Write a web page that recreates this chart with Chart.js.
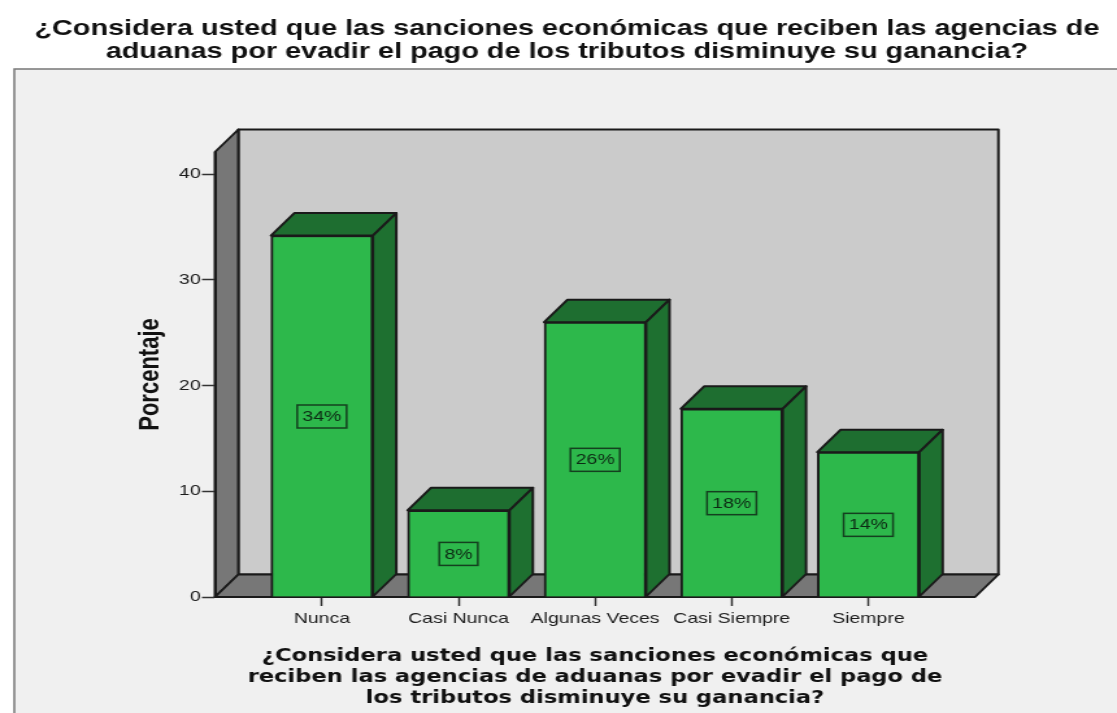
<!DOCTYPE html>
<html>
<head>
<meta charset="utf-8">
<title>Sanciones económicas</title>
<script src="https://cdn.jsdelivr.net/npm/chart.js@4"></script>
<style>
  html,body{margin:0;background:#fff;overflow:hidden}
  /* the reference is a screenshot stretched sideways, so the whole chart is too */
  #wrap{width:860px;height:713px;transform-origin:0 0;transform:scaleX(1.2988)}
  canvas{display:block}
</style>
</head>
<body>
<div id="wrap"><canvas id="chart" width="860" height="713"></canvas></div>
<script>
const categories = ['Nunca','Casi Nunca','Algunas Veces','Casi Siempre','Siempre'];
const values = [34.2,8.2,26.0,17.8,13.7];
const valueLabels = ['34%','8%','26%','18%','14%'];
const yTicks = [0,10,20,30,40];
const titleLines = ['¿Considera usted que las sanciones económicas que reciben las agencias de','aduanas por evadir el pago de los tributos disminuye su ganancia?'];
const xTitleLines = ['¿Considera usted que las sanciones económicas que','reciben las agencias de aduanas por evadir el pago de','los tributos disminuye su ganancia?'];

const DX = 18, DY = 22.5;
const INK = '#1a1a1a';

function poly(ctx, pts, fill){
  ctx.beginPath();
  pts.forEach((p,i)=> i ? ctx.lineTo(p[0],p[1]) : ctx.moveTo(p[0],p[1]));
  ctx.closePath();
  ctx.fillStyle = fill;
  ctx.fill();
  ctx.stroke();
}

const box3d = {
  id:'box3d',
  beforeDraw(chart){
    const ctx = chart.ctx, a = chart.chartArea;
    ctx.save();
    // outer panel
    ctx.fillStyle = '#f0f0f0';
    ctx.fillRect(11,69,860,660);
    ctx.strokeStyle = '#777';
    ctx.lineWidth = 1.5;
    ctx.beginPath();
    ctx.moveTo(11,713); ctx.lineTo(11,69); ctx.lineTo(860,69);
    ctx.stroke();
    // title
    ctx.fillStyle = '#111';
    ctx.font = 'bold 22.2px "Liberation Sans"';
    ctx.textAlign = 'center';
    ctx.textBaseline = 'alphabetic';
    titleLines.forEach((t,i)=> ctx.fillText(t,436.5,35+i*23));
    // walls and floor
    ctx.strokeStyle = INK;
    ctx.lineWidth = 2;
    ctx.lineJoin = 'round';
    poly(ctx,[[a.left+DX,a.top-DY],[a.right+DX,a.top-DY],[a.right+DX,a.bottom-DY],[a.left+DX,a.bottom-DY]],'#cbcbcb');
    poly(ctx,[[a.left,a.top],[a.left+DX,a.top-DY],[a.left+DX,a.bottom-DY],[a.left,a.bottom]],'#777');
    poly(ctx,[[a.left,a.bottom],[a.left+DX,a.bottom-DY],[a.right+DX,a.bottom-DY],[a.right,a.bottom]],'#777');
    ctx.restore();
  },
  beforeDatasetsDraw(chart){
    const ctx = chart.ctx;
    ctx.save();
    ctx.strokeStyle = INK;
    ctx.lineWidth = 2;
    ctx.lineJoin = 'round';
    chart.getDatasetMeta(0).data.forEach(bar=>{
      const l = bar.x-bar.width/2, r = bar.x+bar.width/2, t = bar.y, b = bar.base;
      poly(ctx,[[l,t],[l+DX,t-DY],[r+DX,t-DY],[r,t]],'#1e6e30');
      poly(ctx,[[r,t],[r+DX,t-DY],[r+DX,b-DY],[r,b]],'#1e7030');
    });
    ctx.restore();
  },
  afterDatasetsDraw(chart){
    const ctx = chart.ctx;
    ctx.save();
    ctx.font = '15px "Liberation Sans"';
    ctx.textAlign = 'center';
    ctx.textBaseline = 'middle';
    chart.getDatasetMeta(0).data.forEach((bar,i)=>{
      const y = (bar.y+bar.base)/2, w = ctx.measureText(valueLabels[i]).width+8;
      ctx.strokeStyle = '#14401f';
      ctx.lineWidth = 1.5;
      ctx.strokeRect(bar.x-w/2,y-11,w,23);
      ctx.fillStyle = '#0d2a14';
      ctx.fillText(valueLabels[i],bar.x,y+1);
    });
    ctx.restore();
  }
};

new Chart(document.getElementById('chart'),{
  type:'bar',
  data:{
    datasets:[{
      data:values.map((v,i)=>({x:i,y:v})),
      backgroundColor:'#2db84b',
      borderColor:INK,
      borderWidth:2,
      barThickness:78.5
    }]
  },
  options:{
    responsive:false,
    animation:false,
    layout:{padding:{top:152,right:109.3,bottom:0,left:0}},
    plugins:{legend:{display:false},tooltip:{enabled:false}},
    scales:{
      x:{
        type:'linear',
        bounds:'data',
        offset:false,
        min:-0.783,
        max:4.781,
        afterFit(s){ s.height = 116; },
        afterBuildTicks(s){ s.ticks = categories.map((c,i)=>({value:i})); },
        grid:{offset:false,drawOnChartArea:false,tickLength:9,tickColor:'#333',tickWidth:1.5},
        border:{display:true,color:INK,width:2},
        ticks:{
          autoSkip:false,
          maxRotation:0,
          padding:4,
          color:'#1c1c1c',
          font:{family:'"Liberation Sans"',size:15},
          callback:v=>categories[v]
        },
        title:{
          display:true,
          text:xTitleLines,
          color:'#111',
          padding:{top:0,bottom:4},
          font:{family:'"DejaVu Sans"',size:17.4,weight:'bold',lineHeight:1.207}
        }
      },
      y:{
        bounds:'data',
        min:0,
        max:42.1,
        afterFit(s){ s.width = 165.5; },
        afterBuildTicks(s){ s.ticks = yTicks.map(value=>({value})); },
        grid:{drawOnChartArea:false,tickLength:10,tickColor:'#333',tickWidth:1.5},
        border:{display:true,color:INK,width:2},
        ticks:{
          padding:1,
          color:'#1c1c1c',
          font:{family:'"Liberation Sans"',size:15}
        },
        title:{
          display:true,
          text:'Porcentaje',
          color:'#111',
          padding:{top:103,bottom:0},
          font:{family:'"Liberation Sans"',size:22,weight:'bold'}
        }
      }
    }
  },
  plugins:[box3d]
});
</script>
</body>
</html>
